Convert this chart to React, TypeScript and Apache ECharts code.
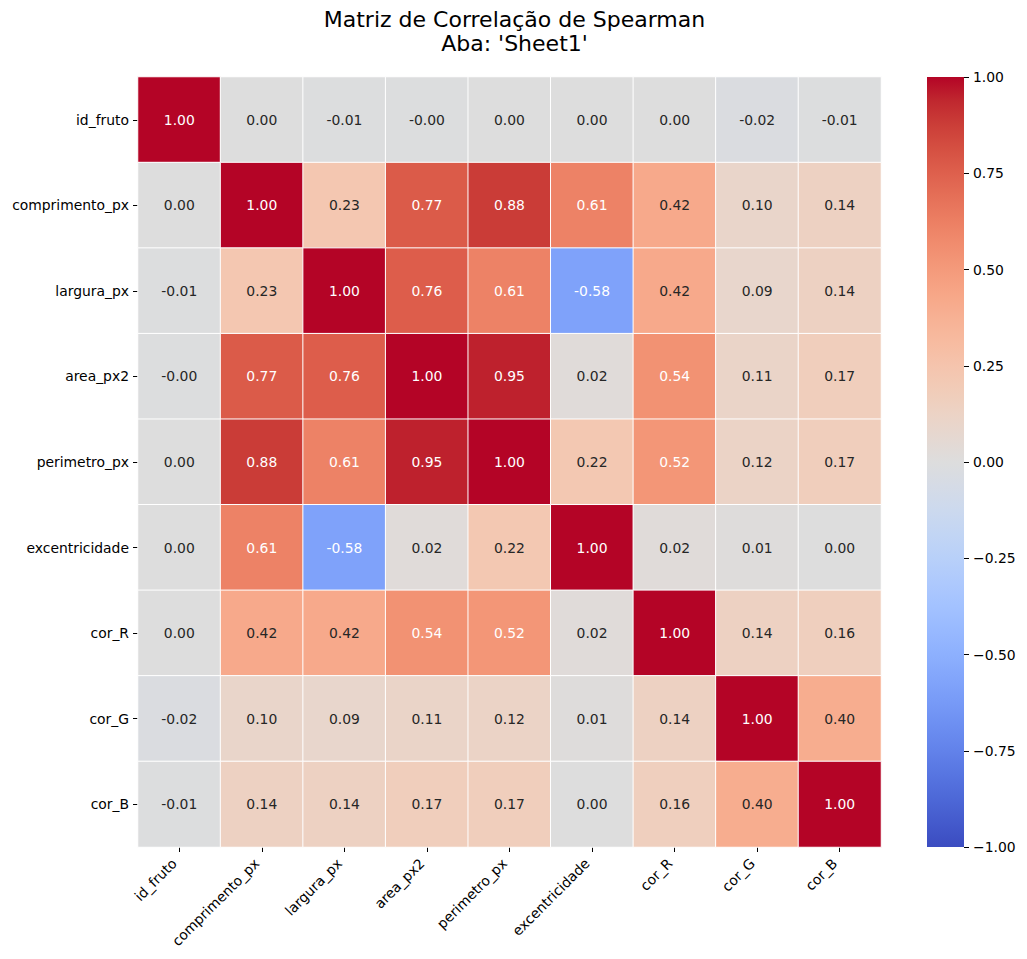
import React, { useEffect, useRef } from "react";
import * as echarts from "echarts";

const variables = [
  "id_fruto",
  "comprimento_px",
  "largura_px",
  "area_px2",
  "perimetro_px",
  "excentricidade",
  "cor_R",
  "cor_G",
  "cor_B",
];

const row_id_fruto = [1.0, 0.0, -0.01, -0.004, 0.0, 0.0, 0.0, -0.02, -0.01];
const row_comprimento = [0.0, 1.0, 0.23, 0.77, 0.88, 0.61, 0.42, 0.1, 0.14];
const row_largura = [-0.01, 0.23, 1.0, 0.76, 0.61, -0.58, 0.42, 0.09, 0.14];
const row_area = [-0.004, 0.77, 0.76, 1.0, 0.95, 0.02, 0.54, 0.11, 0.17];
const row_perimetro = [0.0, 0.88, 0.61, 0.95, 1.0, 0.22, 0.52, 0.12, 0.17];
const row_excentricidade = [0.0, 0.61, -0.58, 0.02, 0.22, 1.0, 0.02, 0.01, 0.0];
const row_cor_R = [0.0, 0.42, 0.42, 0.54, 0.52, 0.02, 1.0, 0.14, 0.16];
const row_cor_G = [-0.02, 0.1, 0.09, 0.11, 0.12, 0.01, 0.14, 1.0, 0.4];
const row_cor_B = [-0.01, 0.14, 0.14, 0.17, 0.17, 0.0, 0.16, 0.4, 1.0];

const matrix = [
  row_id_fruto,
  row_comprimento,
  row_largura,
  row_area,
  row_perimetro,
  row_excentricidade,
  row_cor_R,
  row_cor_G,
  row_cor_B,
];

// matplotlib "coolwarm" colormap (33 samples)
const coolwarm: number[][] = [
  [59, 76, 192], [68, 90, 204], [77, 104, 215], [87, 117, 225], [98, 130, 234],
  [108, 142, 241], [119, 154, 247], [130, 165, 251], [141, 176, 254], [152, 185, 255],
  [163, 194, 255], [174, 201, 253], [184, 208, 249], [194, 213, 244], [204, 217, 238],
  [213, 219, 230], [221, 221, 221], [229, 216, 209], [236, 211, 197], [241, 204, 184],
  [245, 196, 173], [247, 187, 160], [247, 177, 148], [247, 166, 135], [244, 154, 123],
  [241, 141, 111], [236, 127, 99], [229, 112, 88], [222, 96, 77], [213, 80, 66],
  [203, 62, 56], [192, 40, 47], [180, 4, 38],
];

const rgb = (c: number[]) => `rgb(${c[0]},${c[1]},${c[2]})`;

const GRID_LEFT = 138;
const GRID_TOP = 77;
const GRID_W = 743;
const GRID_H = 770;
const CB_LEFT = 927;
const CB_W = 37;

export default function App() {
  const ref = useRef<HTMLDivElement>(null);

  useEffect(() => {
    if (!ref.current) return;
    const chart = echarts.init(ref.current, undefined, { renderer: "svg" });

    const data: any[] = [];
    matrix.forEach((row, r) => {
      row.forEach((v, c) => {
        data.push({
          value: [c, r, v],
          label: { color: Math.abs(v) >= 0.5 ? "#ffffff" : "#262626" },
        });
      });
    });

    const stops = [];
    for (let i = 0; i < coolwarm.length; i++) {
      const c = coolwarm[coolwarm.length - 1 - i];
      stops.push({ offset: i / (coolwarm.length - 1), color: rgb(c) });
    }

    const font = "DejaVu Sans";

    chart.setOption({
      animation: false,
      backgroundColor: "#ffffff",
      textStyle: { fontFamily: font },
      title: {
        text: "Matriz de Correlação de Spearman\nAba: 'Sheet1'",
        left: GRID_LEFT + GRID_W / 2,
        top: 2,
        textAlign: "center",
        textStyle: {
          fontFamily: font,
          fontSize: 22,
          fontWeight: "normal",
          color: "#000000",
          lineHeight: 24,
        },
      },
      visualMap: {
        type: "continuous",
        show: false,
        min: -1,
        max: 1,
        dimension: 2,
        seriesIndex: 0,
        inRange: { color: coolwarm.map(rgb) },
      },
      grid: [
        { left: GRID_LEFT, top: GRID_TOP, width: GRID_W, height: GRID_H },
        { left: CB_LEFT, top: GRID_TOP, width: CB_W, height: GRID_H },
      ],
      xAxis: [
        {
          type: "category",
          gridIndex: 0,
          data: variables,
          axisLine: { show: false },
          axisTick: { show: true, alignWithLabel: true, length: 5, lineStyle: { color: "#000", width: 1 } },
          axisLabel: {
            rotate: 45,
            fontSize: 13.9,
            color: "#000",
            margin: 9,
            padding: [0, 7, 0, 0],
            fontFamily: font,
            interval: 0,
          },
          splitLine: { show: false },
        },
        {
          type: "value",
          gridIndex: 1,
          show: false,
          min: 0,
          max: 1,
        },
      ],
      yAxis: [
        {
          type: "category",
          gridIndex: 0,
          data: variables,
          inverse: true,
          axisLine: { show: false },
          axisTick: { show: true, alignWithLabel: true, length: 5, lineStyle: { color: "#000", width: 1 } },
          axisLabel: { fontSize: 13.9, color: "#000", margin: 9, fontFamily: font, interval: 0 },
          splitLine: { show: false },
        },
        {
          type: "value",
          gridIndex: 1,
          position: "right",
          min: -1,
          max: 1,
          interval: 0.25,
          axisLine: { show: false, onZero: false },
          axisTick: { show: true, length: 5, lineStyle: { color: "#000", width: 1 } },
          axisLabel: {
            fontSize: 13.9,
            color: "#000",
            margin: 9,
            fontFamily: font,
            formatter: (v: number) => (v < 0 ? "\u2212" + Math.abs(v).toFixed(2) : v.toFixed(2)),
          },
          splitLine: { show: false },
        },
      ],
      graphic: [
        {
          type: "rect",
          z: 0,
          shape: { x: CB_LEFT, y: GRID_TOP, width: CB_W, height: GRID_H },
          style: {
            fill: new echarts.graphic.LinearGradient(0, 0, 0, 1, stops),
          },
        },
      ],
      series: [
        {
          type: "heatmap",
          xAxisIndex: 0,
          yAxisIndex: 0,
          data,
          label: {
            show: true,
            fontSize: 13.9,
            fontFamily: font,
            formatter: (p: any) => (p.value[2] as number).toFixed(2),
          },
          itemStyle: { borderColor: "#ffffff", borderWidth: 1 },
          emphasis: { disabled: true },
        },
      ],
    });

    return () => chart.dispose();
  }, []);

  return (
    <div
      ref={ref}
      style={{ position: "absolute", left: 0, top: 0, width: 1027, height: 959 }}
    />
  );
}
